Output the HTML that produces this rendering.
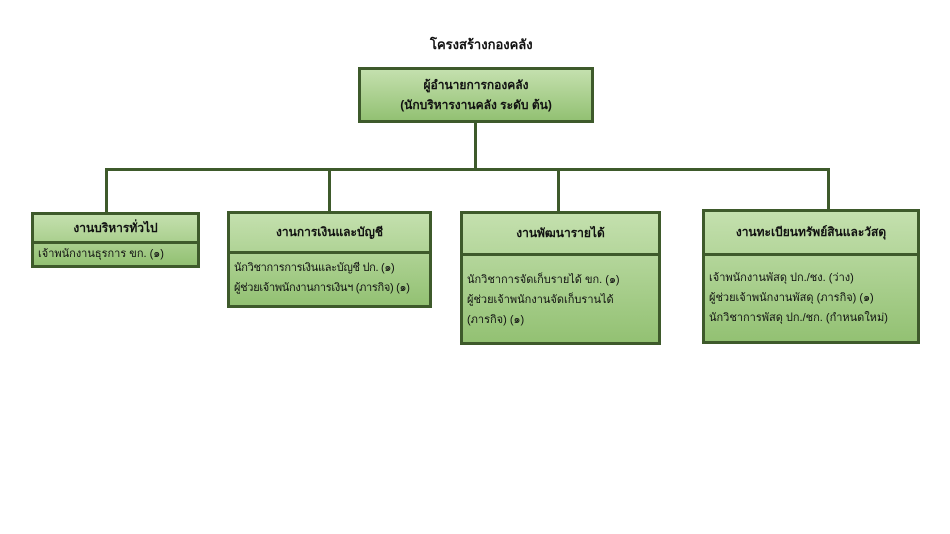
<!DOCTYPE html>
<html><head><meta charset="utf-8"><style>
body{margin:0;width:950px;height:534px;background:#fff;position:relative;overflow:hidden;font-family:"Liberation Sans","DejaVu Sans","Noto Sans CJK SC",sans-serif;color:#111}
.b{position:absolute;border:3px solid #3e5a2b;box-sizing:border-box;background:linear-gradient(#c4e0ae,#93c173)}
.h{border-bottom:3px solid #3e5a2b;font-weight:bold;font-size:12px;text-align:center;box-sizing:border-box;display:flex;align-items:center;justify-content:center}
.c{font-size:11px;line-height:20px;padding:4px 4px;white-space:nowrap}
.l{position:absolute;background:#3e5a2b}
.t{position:absolute;font-weight:bold;font-size:13px}
</style></head><body>
<div class="t" style="left:430px;top:34px">โครงสร้างกองคลัง</div>
<div class="b" style="left:358px;top:67px;width:236px;height:56px;display:flex;flex-direction:column;justify-content:center;align-items:center;font-weight:bold;font-size:12px;line-height:20px"><div>ผู้อำนายการกองคลัง</div><div>(นักบริหารงานคลัง ระดับ ต้น)</div></div>
<div class="l" style="left:474px;top:122px;width:3px;height:48px"></div>
<div class="l" style="left:105px;top:168px;width:725px;height:3px"></div>
<div class="l" style="left:105px;top:168px;width:3px;height:45px"></div>
<div class="l" style="left:328px;top:168px;width:3px;height:44px"></div>
<div class="l" style="left:557px;top:168px;width:3px;height:44px"></div>
<div class="l" style="left:827px;top:168px;width:3px;height:42px"></div>
<div class="b" style="left:31px;top:212px;width:169px;height:56px"><div class="h" style="height:29px">งานบริหารทั่วไป</div><div class="c" style="padding-top:0">เจ้าพนักงานธุรการ ขก. (๑)</div></div>
<div class="b" style="left:227px;top:211px;width:205px;height:97px"><div class="h" style="height:40px">งานการเงินและบัญชี</div><div class="c" style="letter-spacing:-0.3px">นักวิชาการการเงินและบัญชี ปก. (๑)<br>ผู้ช่วยเจ้าพนักงานการเงินฯ (ภารกิจ) (๑)</div></div>
<div class="b" style="left:460px;top:211px;width:201px;height:134px"><div class="h" style="height:42px">งานพัฒนารายได้</div><div class="c" style="padding-top:14px">นักวิชาการจัดเก็บรายได้ ขก. (๑)<br>ผู้ช่วยเจ้าพนักงานจัดเก็บรานได้<br>(ภารกิจ) (๑)</div></div>
<div class="b" style="left:702px;top:209px;width:218px;height:135px"><div class="h" style="height:44px">งานทะเบียนทรัพย์สินและวัสดุ</div><div class="c" style="padding-top:12px">เจ้าพนักงานพัสดุ ปก./ชง. (ว่าง)<br>ผู้ช่วยเจ้าพนักงานพัสดุ (ภารกิจ) (๑)<br>นักวิชาการพัสดุ ปก./ชก. (กำหนดใหม่)</div></div>
</body></html>
